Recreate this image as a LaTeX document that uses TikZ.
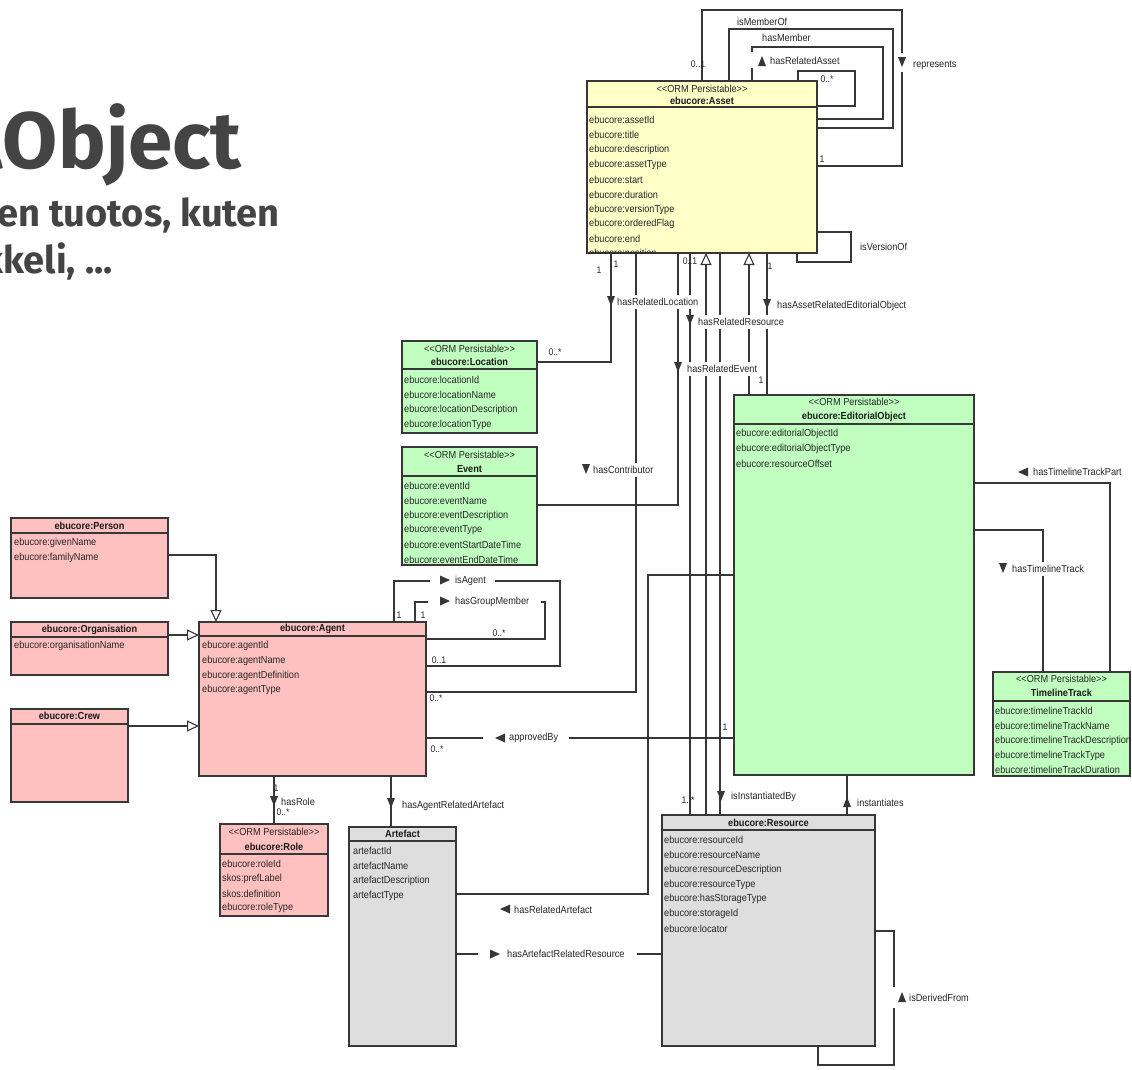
\documentclass[tikz,border=0pt]{standalone}
\usepackage{fontspec}
\usetikzlibrary{arrows.meta}
\newfontfamily\umlfont{Liberation Sans}[FakeStretch=0.9]
\newfontfamily\titlefont{Fira Sans}
\definecolor{yel}{RGB}{255,255,200}
\definecolor{grn}{RGB}{192,255,192}
\definecolor{pnk}{RGB}{255,192,192}
\definecolor{gry}{RGB}{222,222,222}
\definecolor{ln}{RGB}{55,55,55}
\definecolor{tt}{RGB}{68,68,68}
\newcommand\umlattrs[5]{\foreach \t [count=\i] in {#5} \node[attr] (#1-a\i) at (#2,{#3+#4*(\i-1)}) {\t};}
\newcommand\tridn[2]{\fill[ln] (#1,#2) ++(-4,-5) -- ++(8,0) -- ++(-4,10) -- cycle;}
\newcommand\triup[2]{\fill[ln] (#1,#2) ++(-4,5) -- ++(8,0) -- ++(-4,-10) -- cycle;}
\newcommand\trilf[2]{\fill[ln] (#1,#2) ++(5,-4.5) -- ++(0,9) -- ++(-10,-4.5) -- cycle;}
\newcommand\trirt[2]{\fill[ln] (#1,#2) ++(-5,-4.5) -- ++(0,9) -- ++(10,-4.5) -- cycle;}
\begin{document}
\begin{tikzpicture}[x=1pt,y=-1pt,
  cls/.style={draw=ln, line width=1.2pt, anchor=north west, inner sep=0pt, outer sep=0pt},
  attr/.style={anchor=west, inner sep=0pt, font=\umlfont\fontsize{10.2}{11}\selectfont, text=black!85},
  stereo/.style={inner sep=0pt, font=\umlfont\fontsize{10.2}{11}\selectfont, text=black!85},
  cname/.style={inner sep=0pt, font=\umlfont\bfseries\fontsize{10.2}{11}\selectfont, text=black!90},
  conn/.style={draw=ln, line width=1.1pt},
  divl/.style={draw=ln, line width=1.2pt},
  rel/.style={anchor=west, inner sep=0pt, font=\umlfont\fontsize{10.2}{11}\selectfont, text=black!85},
  mult/.style={inner sep=0pt, font=\umlfont\fontsize{9.6}{11}\selectfont, text=black!85},
  gen/.style={conn, -{Triangle[length=12pt,width=11pt,fill=white]}},
  title/.style={anchor=base east, inner sep=0pt, text=tt},
]
\useasboundingbox (0,0) rectangle (1132,1069);
\clip (0,0) rectangle (1132,1069);

% ---------- title ----------
\node[title, font=\titlefont\bfseries\fontsize{80}{80}\selectfont] (title1) at (242,168) {EditorialObject};
\node[title, font=\titlefont\bfseries\fontsize{38}{38}\selectfont] (title2) at (280,226) {Toimituksellinen tuotos, kuten};
\node[title, font=\titlefont\bfseries\fontsize{38}{38}\selectfont] (title3) at (113,273) {artikkeli,\hspace{0.25em}...};

% ---------- class boxes ----------
\node[cls, fill=yel, minimum width=230pt, minimum height=172pt] (asset) at (587,81) {};
\node[cls, fill=grn, minimum width=135pt, minimum height=92pt] (location) at (402,341) {};
\node[cls, fill=grn, minimum width=135pt, minimum height=118pt] (event) at (402,447) {};
\node[cls, fill=pnk, minimum width=157pt, minimum height=80pt] (person) at (11,518) {};
\node[cls, fill=pnk, minimum width=157pt, minimum height=53pt] (org) at (11,622) {};
\node[cls, fill=pnk, minimum width=117pt, minimum height=93pt] (crew) at (11,709) {};
\node[cls, fill=pnk, minimum width=227pt, minimum height=154pt] (agent) at (199,622) {};
\node[cls, fill=pnk, minimum width=108pt, minimum height=92pt] (role) at (220,824) {};
\node[cls, fill=gry, minimum width=107pt, minimum height=219pt] (artefact) at (349,827) {};
\node[cls, fill=gry, minimum width=213pt, minimum height=231pt] (resource) at (662,815) {};
\node[cls, fill=grn, minimum width=240pt, minimum height=380pt] (eo) at (734,395) {};
\node[cls, fill=grn, minimum width=137pt, minimum height=104pt] (timeline) at (993,672) {};

% dividers
\draw[divl] (asset.west |- 0,107) -- (asset.east |- 0,107);
\draw[divl] (location.west |- 0,369) -- (location.east |- 0,369);
\draw[divl] (event.west |- 0,476) -- (event.east |- 0,476);
\draw[divl] (person.west |- 0,533) -- (person.east |- 0,533);
\draw[divl] (org.west |- 0,637) -- (org.east |- 0,637);
\draw[divl] (crew.west |- 0,724) -- (crew.east |- 0,724);
\draw[divl] (agent.west |- 0,636) -- (agent.east |- 0,636);
\draw[divl] (role.west |- 0,854) -- (role.east |- 0,854);
\draw[divl] (artefact.west |- 0,841) -- (artefact.east |- 0,841);
\draw[divl] (resource.west |- 0,830) -- (resource.east |- 0,830);
\draw[divl] (eo.west |- 0,424) -- (eo.east |- 0,424);
\draw[divl] (timeline.west |- 0,701) -- (timeline.east |- 0,701);

% headers
\node[stereo] (asset-st) at (asset.north |- 0,89) {<<ORM Persistable>>};
\node[cname] (asset-nm) at (asset.north |- 0,101) {ebucore:Asset};
\node[stereo] (location-st) at (location.north |- 0,349) {<<ORM Persistable>>};
\node[cname] (location-nm) at (location.north |- 0,362) {ebucore:Location};
\node[stereo] (event-st) at (event.north |- 0,455) {<<ORM Persistable>>};
\node[cname] (event-nm) at (event.north |- 0,469) {Event};
\node[cname] (person-nm) at (person.north |- 0,526) {ebucore:Person};
\node[cname] (org-nm) at (org.north |- 0,630) {ebucore:Organisation};
\node[cname] (crew-nm) at (crew.north |- 0,716) {ebucore:Crew};
\node[cname] (agent-nm) at (agent.north |- 0,629) {ebucore:Agent};
\node[stereo] (role-st) at (role.north |- 0,832) {<<ORM Persistable>>};
\node[cname] (role-nm) at (role.north |- 0,847) {ebucore:Role};
\node[cname] (artefact-nm) at (artefact.north |- 0,834) {Artefact};
\node[cname] (resource-nm) at (resource.north |- 0,823) {ebucore:Resource};
\node[stereo] (eo-st) at (eo.north |- 0,402) {<<ORM Persistable>>};
\node[cname] (eo-nm) at (eo.north |- 0,417) {ebucore:EditorialObject};
\node[stereo] (timeline-st) at (timeline.north |- 0,679) {<<ORM Persistable>>};
\node[cname] (timeline-nm) at (timeline.north |- 0,693) {TimelineTrack};

% attributes
\begin{scope}
\clip (asset.north west) rectangle (asset.south east);
\umlattrs{asset}{589}{120}{14.9}{ebucore:assetId,ebucore:title,ebucore:description,ebucore:assetType,ebucore:start,ebucore:duration,ebucore:versionType,ebucore:orderedFlag,ebucore:end,ebucore:position}
\end{scope}
\umlattrs{location}{404}{380}{14.9}{ebucore:locationId,ebucore:locationName,ebucore:locationDescription,ebucore:locationType}
\umlattrs{event}{404}{486}{14.7}{ebucore:eventId,ebucore:eventName,ebucore:eventDescription,ebucore:eventType,ebucore:eventStartDateTime,ebucore:eventEndDateTime}
\umlattrs{person}{14}{543}{14.8}{ebucore:givenName,ebucore:familyName}
\umlattrs{org}{14}{646}{14.8}{ebucore:organisationName}
\umlattrs{agent}{202}{646}{14.7}{ebucore:agentId,ebucore:agentName,ebucore:agentDefinition,ebucore:agentType}
\umlattrs{role}{222}{864}{14.7}{ebucore:roleId,skos:prefLabel,skos:definition,ebucore:roleType}
\umlattrs{artefact}{353}{851}{14.8}{artefactId,artefactName,artefactDescription,artefactType}
\umlattrs{resource}{664}{840}{14.8}{ebucore:resourceId,ebucore:resourceName,ebucore:resourceDescription,ebucore:resourceType,ebucore:hasStorageType,ebucore:storageId,ebucore:locator}
\umlattrs{eo}{736}{434}{14.9}{ebucore:editorialObjectId,ebucore:editorialObjectType,ebucore:resourceOffset}
\umlattrs{timeline}{995}{711}{14.8}{ebucore:timelineTrackId,ebucore:timelineTrackName,ebucore:timelineTrackDescription,ebucore:timelineTrackType,ebucore:timelineTrackDuration}

% ---------- connectors ----------
% Asset self associations
\draw[conn] (702,0 |- asset.north) -- (702,10) -- (902,10) |- (asset.east |- 0,166);
\draw[conn] (729,0 |- asset.north) -- (729,29) -- (893,29) |- (asset.east |- 0,128);
\draw[conn] (752,0 |- asset.north) -- (752,47) -- (883,47) |- (asset.east |- 0,119);
\draw[conn] (798,0 |- asset.north) -- (798,71) -- (855,71) |- (asset.east |- 0,106);
\draw[conn] (asset.east |- 0,232) -- (851,232) -- (851,262) -| (797,0 |- asset.south);
% Asset to others
\draw[conn] (611,0 |- asset.south) |- (location.east |- 0,362);
\draw[conn] (636,0 |- asset.south) |- (agent.east |- 0,692);
\draw[conn] (678,0 |- asset.south) |- (event.east |- 0,505);
\draw[conn] (690,0 |- asset.south) -- (690,0 |- resource.north);
\draw[gen] (706,0 |- resource.north) -- (706,0 |- asset.south);
\draw[conn] (720,0 |- asset.south) -- (720,0 |- resource.north);
\draw[gen] (749,0 |- eo.north) -- (749,0 |- asset.south);
\draw[conn] (767,0 |- asset.south) -- (767,0 |- eo.north);
% EditorialObject
\draw[conn] (eo.west |- 0,575) -| (648,894) -- (artefact.east |- 0,894);
\draw[conn] (eo.west |- 0,738) -- (agent.east |- 0,738);
\draw[conn] (eo.east |- 0,483) -| (1110,0 |- timeline.north);
\draw[conn] (eo.east |- 0,530) -| (1043,0 |- timeline.north);
\draw[conn] (847,0 |- eo.south) -- (847,0 |- resource.north);
% Resource
\draw[conn] (resource.east |- 0,931) -| (894,1065) -| (818,0 |- resource.south);
\draw[conn] (artefact.east |- 0,954) -- (resource.west |- 0,954);
% Agent
\draw[conn] (274,0 |- agent.south) -- (274,0 |- role.north);
\draw[conn] (391,0 |- agent.south) -- (391,0 |- artefact.north);
\draw[conn] (394,0 |- agent.north) -- (394,581) -- (560,581) |- (agent.east |- 0,666);
\draw[conn] (415,0 |- agent.north) -- (415,602) -- (545,602) |- (agent.east |- 0,639);
\draw[gen] (person.east |- 0,555) -| (216,0 |- agent.north);
\draw[gen] (org.east |- 0,635) -- (agent.west |- 0,635);
\draw[gen] (crew.east |- 0,726) -- (agent.west |- 0,726);

% ---------- gaps behind labels ----------
\fill[white] (897,53) rectangle (908,72);
\fill[white] (747,52) rectangle (757,68);
\fill[white] (616,295) rectangle (700,309);
\fill[white] (697,315) rectangle (787,329);
\fill[white] (685,362) rectangle (761,376);
\fill[white] (591,463) rectangle (657,477);
\fill[white] (430,575) rectangle (495,587);
\fill[white] (428,596) rectangle (541,608);
\fill[white] (478,948) rectangle (637,960);
\fill[white] (483,732) rectangle (569,744);
\fill[white] (1010,562) rectangle (1087,576);
\fill[white] (889,987) rectangle (899,1008);

% ---------- arrow triangles ----------
\tridn{902}{62}
\triup{762}{61}
\tridn{611}{301}
\tridn{690}{320}
\tridn{678}{367}
\tridn{767}{304}
\tridn{586}{469}
\tridn{721}{796}
\triup{847}{802}
\triup{902}{997}
\trirt{495}{954}
\trilf{505}{909}
\tridn{391}{803}
\tridn{274}{801}
\trirt{445}{580}
\trirt{445}{601}
\trilf{500}{738}
\trilf{1023}{472}
\tridn{1003}{568}

% ---------- association labels ----------
\node[rel] (l-represents) at (913,65) {represents};
\node[rel] (l-ismemberof) at (737,22) {isMemberOf};
\node[rel] (l-hasmember) at (762,38) {hasMember};
\node[rel] (l-hasrelasset) at (770,61) {hasRelatedAsset};
\node[rel] (l-isversionof) at (860,247) {isVersionOf};
\node[rel] (l-hasrelloc) at (617,302) {hasRelatedLocation};
\node[rel] (l-hasrelres) at (698,322) {hasRelatedResource};
\node[rel] (l-hasrelevent) at (687,369) {hasRelatedEvent};
\node[rel] (l-hasassetreleo) at (777,306) {hasAssetRelatedEditorialObject};
\node[rel] (l-hascontrib) at (593,470) {hasContributor};
\node[rel] (l-isinst) at (731,797) {isInstantiatedBy};
\node[rel] (l-inst) at (857,803) {instantiates};
\node[rel] (l-isderived) at (909,998) {isDerivedFrom};
\node[rel] (l-hasartres) at (507,954) {hasArtefactRelatedResource};
\node[rel] (l-hasrelart) at (514,910) {hasRelatedArtefact};
\node[rel] (l-hasagentart) at (402,806) {hasAgentRelatedArtefact};
\node[rel] (l-hasrole) at (281,802) {hasRole};
\node[rel] (l-isagent) at (455,581) {isAgent};
\node[rel] (l-hasgroup) at (455,602) {hasGroupMember};
\node[rel] (l-approved) at (509,738) {approvedBy};
\node[rel] (l-hastlpart) at (1033,472) {hasTimelineTrackPart};
\node[rel] (l-hastl) at (1012,569) {hasTimelineTrack};

% ---------- multiplicities ----------
\node[mult] (m1) at (698,64) {0..1};
\node[mult] (m2) at (822,159) {1};
\node[mult] (m3) at (827,79) {0..*};
\node[mult] (m4) at (599,270) {1};
\node[mult] (m5) at (616,264) {1};
\node[mult] (m6) at (690,261) {0..1};
\node[mult] (m7) at (770,266) {1};
\node[mult] (m8) at (555,352) {0..*};
\node[mult] (m9) at (761,380) {1};
\node[mult] (m10) at (688,800) {1..*};
\node[mult] (m11) at (725,727) {1};
\node[mult] (m12) at (436,698) {0..*};
\node[mult] (m13) at (437,749) {0..*};
\node[mult] (m14) at (439,660) {0..1};
\node[mult] (m15) at (499,633) {0..*};
\node[mult] (m16) at (399,615) {1};
\node[mult] (m17) at (423,615) {1};
\node[mult] (m18) at (276,788) {1};
\node[mult] (m19) at (283,812) {0..*};
\end{tikzpicture}
\end{document}
